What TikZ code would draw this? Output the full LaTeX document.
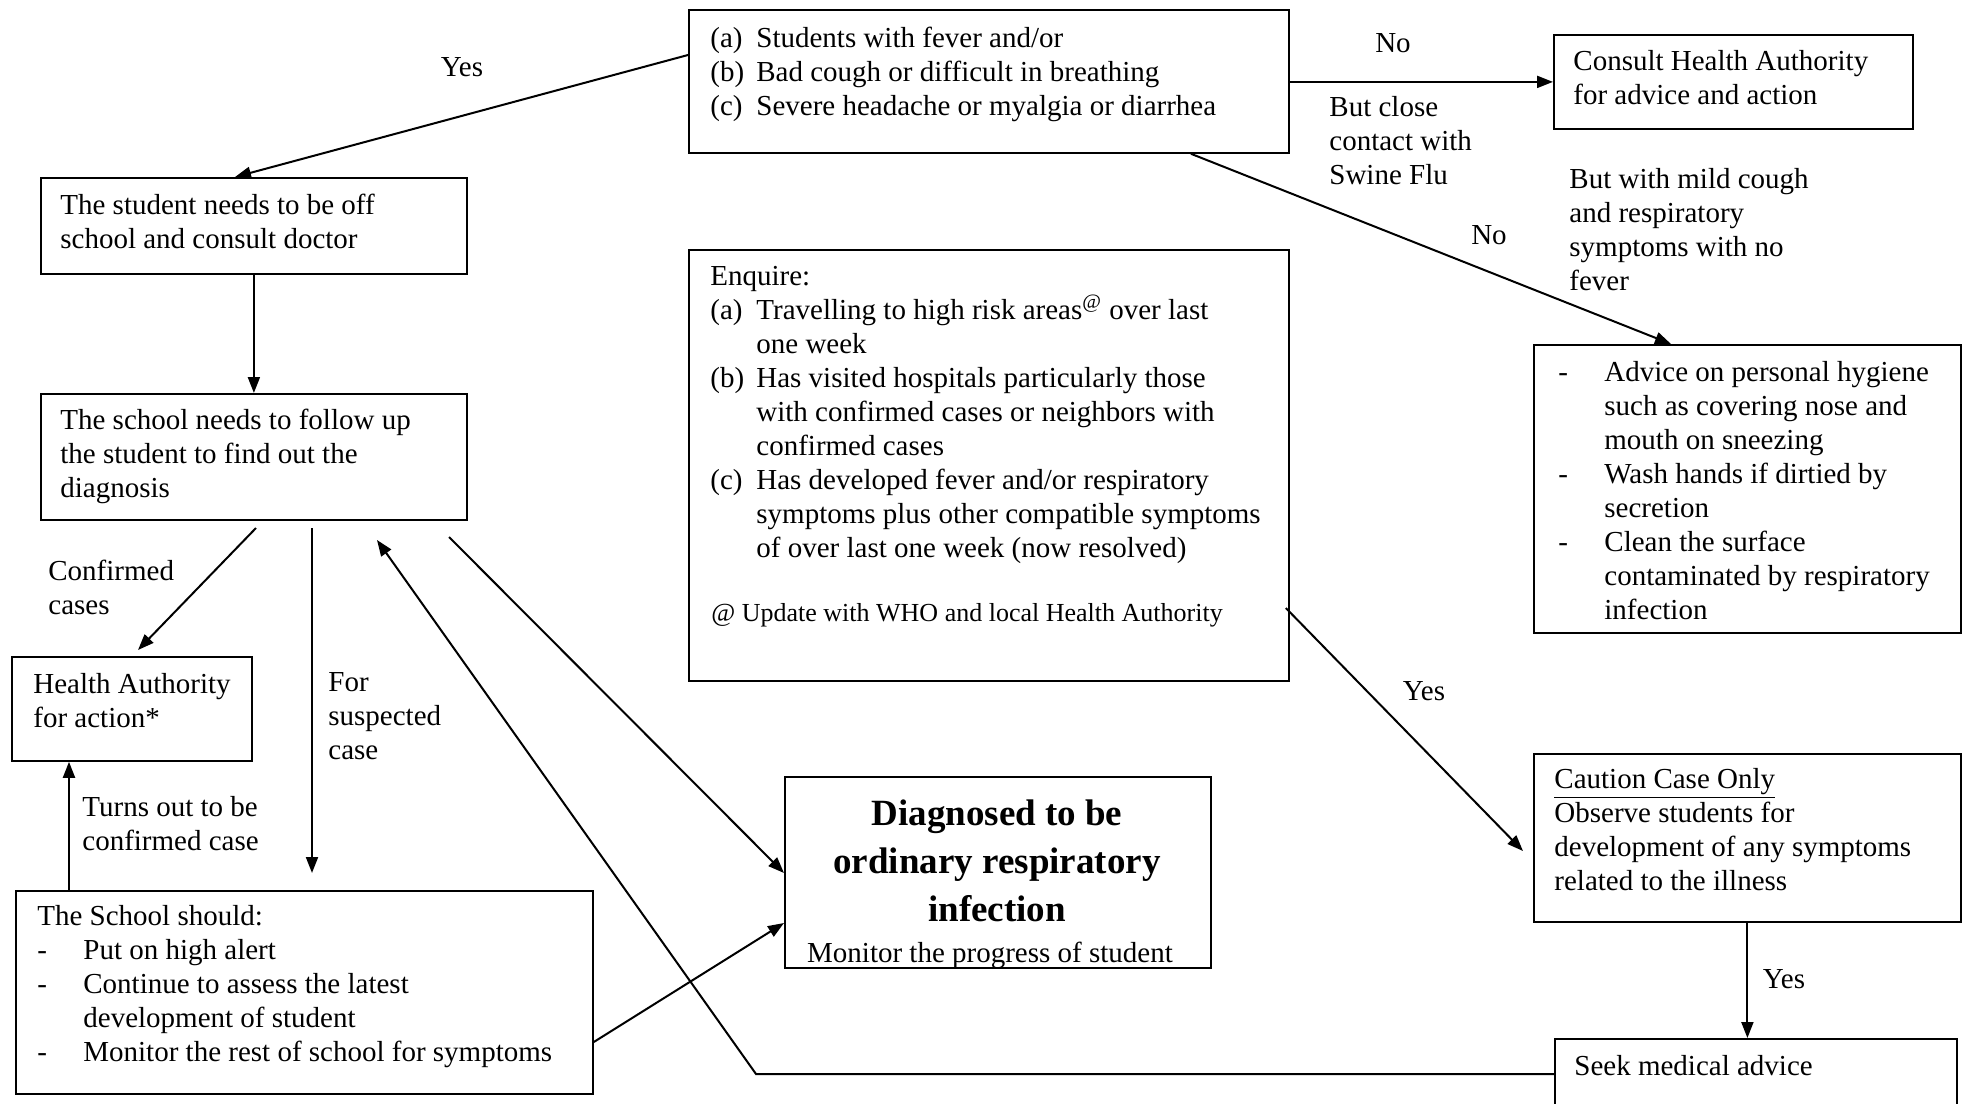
\documentclass[tikz,border=0pt]{standalone}
\usepackage{fontspec}
\setmainfont{Liberation Serif}
\usetikzlibrary{arrows.meta,calc}
\newcommand\txtl[1]{\begin{tabular}[t]{@{}l@{}}#1\end{tabular}}
\newcommand\txtc[1]{\begin{tabular}[t]{@{}c@{}}#1\end{tabular}}
\newcommand\itm[1]{\makebox[23pt][l]{#1}}
\newcommand\ind{\hspace*{23pt}}
\begin{document}
\begin{tikzpicture}[x=0.5pt,y=-0.5pt,
  bx/.style={draw, line width=0.9pt, inner sep=0pt, anchor=north west},
  txt/.style={anchor=base west, inner sep=0pt, font=\fontsize{14.5}{17}\selectfont},
  lbl/.style={anchor=base, inner sep=0pt, font=\fontsize{14.5}{17}\selectfont},
  conn/.style={line width=1pt, -{Triangle[length=8pt,width=6pt]}}]
\clip (0,0) rectangle (1970,1103);
\fill[white] (0,0) rectangle (1970,1103);

% boxes
\node[bx, minimum width=300pt, minimum height=71.5pt] (A) at (688,9) {};
\node[bx, minimum width=179.5pt, minimum height=47pt] (B) at (1553,34) {};
\node[bx, minimum width=213pt, minimum height=48pt] (C) at (40,177) {};
\node[bx, minimum width=213pt, minimum height=63pt] (D) at (40,393) {};
\node[bx, minimum width=300pt, minimum height=215.5pt] (E) at (688,249) {};
\node[bx, minimum width=213.5pt, minimum height=144pt] (F) at (1533,344) {};
\node[bx, minimum width=120pt, minimum height=52pt] (G) at (11,656) {};
\node[bx, minimum width=288.5pt, minimum height=101.5pt] (H) at (15,890) {};
\node[bx, minimum width=213pt, minimum height=95.5pt] (I) at (784,776) {};
\node[bx, minimum width=213.5pt, minimum height=84pt] (J) at (1533,753) {};
\node[bx, minimum width=201pt, minimum height=51pt] (K) at (1554,1038) {};

% box texts
\node[txt] (At) at (710,47) {\txtl{\itm{(a)}Students with fever and/or\\
  \itm{(b)}Bad cough or difficult in breathing\\
  \itm{(c)}Severe headache or myalgia or diarrhea}};
\node[txt] (Bt) at (1573,70) {\txtl{Consult Health Authority\\for advice and action}};
\node[txt] (Ct) at (60,214) {\txtl{The student needs to be off\\school and consult doctor}};
\node[txt] (Dt) at (60,429) {\txtl{The school needs to follow up\\the student to find out the\\diagnosis}};
\node[txt] (Et) at (710,285) {\txtl{Enquire:\\
  \itm{(a)}Travelling to high risk areas\textsuperscript{@} over last\\
  \ind one week\\
  \itm{(b)}Has visited hospitals particularly those\\
  \ind with confirmed cases or neighbors with\\
  \ind confirmed cases\\
  \itm{(c)}Has developed fever and/or respiratory\\
  \ind symptoms plus other compatible symptoms\\
  \ind of over last one week (now resolved)}};
\node[txt, font=\fontsize{13}{15}\selectfont] (Ef) at (711,621) {@ Update with WHO and local Health Authority};
\node[txt] (Ft) at (1558,381) {\txtl{\itm{-}Advice on personal hygiene\\
  \ind such as covering nose and\\
  \ind mouth on sneezing\\
  \itm{-}Wash hands if dirtied by\\
  \ind secretion\\
  \itm{-}Clean the surface\\
  \ind contaminated by respiratory\\
  \ind infection}};
\node[txt] (Gt) at (33,693) {\txtl{Health Authority\\for action*}};
\node[txt] (Ht) at (37,925) {\txtl{The School should:\\
  \itm{-}Put on high alert\\
  \itm{-}Continue to assess the latest\\
  \ind development of student\\
  \itm{-}Monitor the rest of school for symptoms}};
\node[anchor=base, inner sep=0pt, font=\fontsize{18.5}{24}\selectfont\bfseries] (It) at (997,825)
  {\txtc{Diagnosed to be\\ordinary respiratory\\infection}};
\begin{scope}
  \clip (I.south west) rectangle (I.north east);
  \node[lbl] (Im) at (990,962) {Monitor the progress of student};
\end{scope}
\node[txt] (Jt) at (1554,788) {\txtl{\underline{Caution Case Only}\\Observe students for\\development of any symptoms\\related to the illness}};
\node[txt] (Kt) at (1574,1075) {Seek medical advice};

% edge labels
\node[lbl] (y1) at (462,76) {Yes};
\node[lbl] (n1) at (1393,52) {No};
\node[txt] (bc) at (1329,116) {\txtl{But close\\contact with\\Swine Flu}};
\node[lbl] (n2) at (1489,244) {No};
\node[txt] (bm) at (1569,188) {\txtl{But with mild cough\\and respiratory\\symptoms with no\\fever}};
\node[txt] (cc) at (48,580) {\txtl{Confirmed\\cases}};
\node[txt] (fs) at (328,691) {\txtl{For\\suspected\\case}};
\node[txt] (tc) at (82,816) {\txtl{Turns out to be\\confirmed case}};
\node[lbl] (y2) at (1424,700) {Yes};
\node[lbl] (y3) at (1784,988) {Yes};

% connectors
\draw[conn] ($(A.north west)+(0,46)$) -- ($(C.north west)+(195,0)$);
\draw[conn] (A.east |- B.west) -- (B.west);
\draw[conn] ($(A.south west)+(503,0)$) -- ($(F.north west)+(138,0)$);
\draw[conn] (C.south) -- (D.north);
\coordinate (d1) at (256,528);
\draw[conn] (d1) -- ($(G.north west)+(127,-6)$);
\coordinate (d2) at (312,528);
\coordinate (d2e) at (312,873);
\draw[conn] (d2) -- (d2e);
\coordinate (d3) at (377,540);
\coordinate (bk) at (756,1074);
\draw[conn] ($(K.north west)+(0,36)$) -- (bk) -- (d3);
\coordinate (d4) at (449,537);
\draw[conn] (d4) -- ($(I.north west)+(0,97)$);
\draw[conn] ($(H.north east)+(0,152)$) -- ($(I.north west)+(0,147)$);
\draw[conn] ($(H.north west)+(54,0)$) -- ($(G.south west)+(58,0)$);
\draw[conn] ($(E.north east)+(-4,359)$) -- ($(J.north west)+(-10,98)$);
\draw[conn] (J.south) -- (J.south |- K.north);
\end{tikzpicture}
\end{document}
